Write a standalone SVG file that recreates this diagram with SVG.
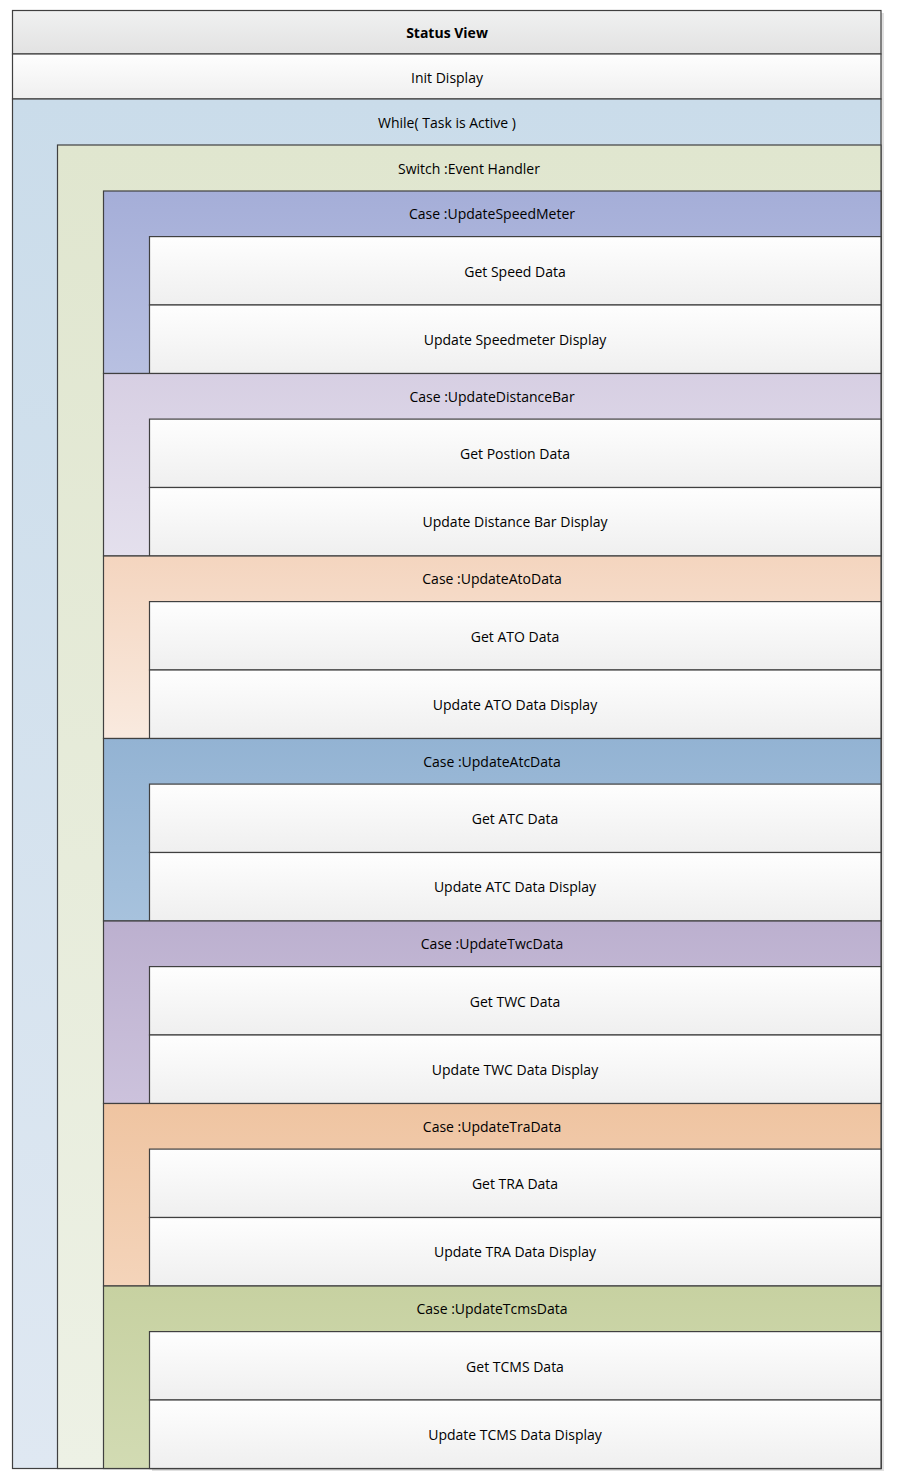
<svg xmlns="http://www.w3.org/2000/svg" width="914" height="1481" viewBox="0 0 914 1481">
<defs>
<linearGradient id="gHead" x1="0" y1="0" x2="0" y2="1"><stop offset="0" stop-color="#f0f1f1"/><stop offset="1" stop-color="#e2e2e2"/></linearGradient>
<linearGradient id="gWhite" x1="0" y1="0" x2="0" y2="1"><stop offset="0" stop-color="#fefefe"/><stop offset="1" stop-color="#efefef"/></linearGradient>
<linearGradient id="gWhile" x1="0" y1="0" x2="0" y2="1"><stop offset="0" stop-color="#cadcea"/><stop offset="1" stop-color="#dfe8f2"/></linearGradient>
<linearGradient id="gSwitch" x1="0" y1="0" x2="0" y2="1"><stop offset="0" stop-color="#e0e6cf"/><stop offset="1" stop-color="#edf1e5"/></linearGradient>
<linearGradient id="gC1" x1="0" y1="0" x2="0" y2="1"><stop offset="0" stop-color="#a5aed8"/><stop offset="1" stop-color="#b8c0e1"/></linearGradient>
<linearGradient id="gC2" x1="0" y1="0" x2="0" y2="1"><stop offset="0" stop-color="#d7cfe3"/><stop offset="1" stop-color="#e4e0ed"/></linearGradient>
<linearGradient id="gC3" x1="0" y1="0" x2="0" y2="1"><stop offset="0" stop-color="#f4d5bf"/><stop offset="1" stop-color="#f9eadf"/></linearGradient>
<linearGradient id="gC4" x1="0" y1="0" x2="0" y2="1"><stop offset="0" stop-color="#93b3d3"/><stop offset="1" stop-color="#a7c2dd"/></linearGradient>
<linearGradient id="gC5" x1="0" y1="0" x2="0" y2="1"><stop offset="0" stop-color="#bcb0cf"/><stop offset="1" stop-color="#ccc2dc"/></linearGradient>
<linearGradient id="gC6" x1="0" y1="0" x2="0" y2="1"><stop offset="0" stop-color="#efc4a1"/><stop offset="1" stop-color="#f4d4ba"/></linearGradient>
<linearGradient id="gC7" x1="0" y1="0" x2="0" y2="1"><stop offset="0" stop-color="#c7d1a1"/><stop offset="1" stop-color="#d2dbb3"/></linearGradient>
</defs>
<style>
rect.b{stroke:#404040;stroke-width:1.2}
.w{fill:url(#gWhite)}
text{font-family:"Open Sans","Liberation Sans",sans-serif;font-size:14px;fill:#000;text-anchor:middle;dominant-baseline:central}
.bold{font-weight:bold}
.sh{fill:#e0e0e0}
</style>
<g id="shadows">
<rect class="sh" x="881" y="13" width="3" height="1458"/>
<rect class="sh" x="152" y="1468" width="732" height="3"/>
</g>
<g id="statusView"><rect class="b" x="12.5" y="10.5" width="868.5" height="43.5" fill="url(#gHead)"/><text class="bold" x="447" y="32">Status View</text></g>
<g id="initDisplay"><rect class="b w" x="12.5" y="54" width="868.5" height="45"/><text x="447" y="77">Init Display</text></g>
<g id="while"><rect class="b" x="12.5" y="99" width="868.5" height="1369.5" fill="url(#gWhile)"/><text x="447" y="122">While( Task is Active )</text></g>
<g id="switch"><rect class="b" x="57.5" y="145" width="823.5" height="1323.5" fill="url(#gSwitch)"/><text x="469" y="168">Switch :Event Handler</text></g>

<g id="case1"><rect class="b" x="103.5" y="191" width="777.5" height="182.5" fill="url(#gC1)"/><text x="492" y="213.5">Case :UpdateSpeedMeter</text>
<rect class="b w" x="149.5" y="236.6" width="731.5" height="68.4"/><text x="515" y="271">Get Speed Data</text>
<rect class="b w" x="149.5" y="305" width="731.5" height="68.5"/><text x="515" y="339">Update Speedmeter Display</text></g>

<g id="case2"><rect class="b" x="103.5" y="373.5" width="777.5" height="182.5" fill="url(#gC2)"/><text x="492" y="396">Case :UpdateDistanceBar</text>
<rect class="b w" x="149.5" y="419.1" width="731.5" height="68.4"/><text x="515" y="453.5">Get Postion Data</text>
<rect class="b w" x="149.5" y="487.5" width="731.5" height="68.5"/><text x="515" y="521.5">Update Distance Bar Display</text></g>

<g id="case3"><rect class="b" x="103.5" y="556" width="777.5" height="182.5" fill="url(#gC3)"/><text x="492" y="578.5">Case :UpdateAtoData</text>
<rect class="b w" x="149.5" y="601.6" width="731.5" height="68.4"/><text x="515" y="636">Get ATO Data</text>
<rect class="b w" x="149.5" y="670" width="731.5" height="68.5"/><text x="515" y="704">Update ATO Data Display</text></g>

<g id="case4"><rect class="b" x="103.5" y="738.5" width="777.5" height="182.5" fill="url(#gC4)"/><text x="492" y="761">Case :UpdateAtcData</text>
<rect class="b w" x="149.5" y="784.1" width="731.5" height="68.4"/><text x="515" y="818.5">Get ATC Data</text>
<rect class="b w" x="149.5" y="852.5" width="731.5" height="68.5"/><text x="515" y="886.5">Update ATC Data Display</text></g>

<g id="case5"><rect class="b" x="103.5" y="921" width="777.5" height="182.5" fill="url(#gC5)"/><text x="492" y="943.5">Case :UpdateTwcData</text>
<rect class="b w" x="149.5" y="966.6" width="731.5" height="68.4"/><text x="515" y="1001">Get TWC Data</text>
<rect class="b w" x="149.5" y="1035" width="731.5" height="68.5"/><text x="515" y="1069">Update TWC Data Display</text></g>

<g id="case6"><rect class="b" x="103.5" y="1103.5" width="777.5" height="182.5" fill="url(#gC6)"/><text x="492" y="1126">Case :UpdateTraData</text>
<rect class="b w" x="149.5" y="1149.1" width="731.5" height="68.4"/><text x="515" y="1183.5">Get TRA Data</text>
<rect class="b w" x="149.5" y="1217.5" width="731.5" height="68.5"/><text x="515" y="1251.5">Update TRA Data Display</text></g>

<g id="case7"><rect class="b" x="103.5" y="1286" width="777.5" height="182.5" fill="url(#gC7)"/><text x="492" y="1308.5">Case :UpdateTcmsData</text>
<rect class="b w" x="149.5" y="1331.6" width="731.5" height="68.4"/><text x="515" y="1366">Get TCMS Data</text>
<rect class="b w" x="149.5" y="1400" width="731.5" height="68.5"/><text x="515" y="1434">Update TCMS Data Display</text></g>
<g id="connectors"/>
</svg>
